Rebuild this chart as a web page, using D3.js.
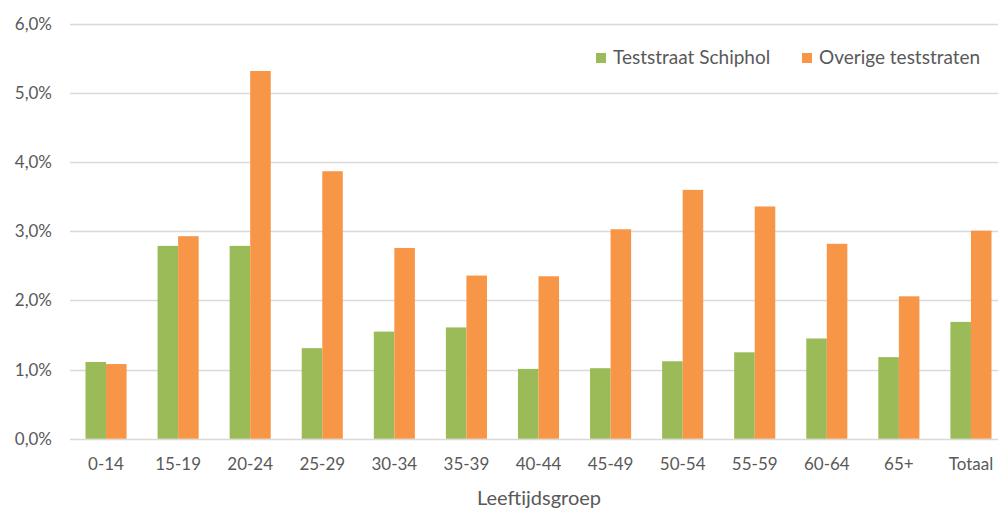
<!DOCTYPE html>
<html>
<head>
<meta charset="utf-8">
<script src="https://cdn.jsdelivr.net/npm/d3@7"></script>
<style>
  body { margin: 0; background: #fff; overflow: hidden; }
  svg { display: block; font-family: Lato, "Open Sans", sans-serif; }
  .tick text { fill: #595959; }
</style>
</head>
<body>
<div id="chart"></div>
<script>
// leeftijdsgroepen
var categories = ["0-14", "15-19", "20-24", "25-29", "30-34", "35-39", "40-44", "45-49", "50-54", "55-59", "60-64", "65+", "Totaal"];
var seriesNames = ["Teststraat Schiphol", "Overige teststraten"];
var schiphol = [1.11, 2.79, 2.79, 1.31, 1.55, 1.61, 1.01, 1.02, 1.12, 1.25, 1.45, 1.18, 1.69];
var overige = [1.08, 2.93, 5.32, 3.87, 2.76, 2.36, 2.35, 3.03, 3.60, 3.36, 2.82, 2.06, 3.01];
var yTicks = [0, 1, 2, 3, 4, 5, 6];
var colors = ["#9bbb59", "#f79646"];

var width = 998, height = 509;
var margin = { top: 24, left: 70, bottom: 70, right: 0 };
var plotRight = 1007; // plot runs past the picture's right edge

var svg = d3.select("#chart").append("svg")
    .attr("width", width)
    .attr("height", height);

var x = d3.scaleBand()
    .domain(categories)
    .range([margin.left, plotRight])
    .paddingInner(0.43)
    .paddingOuter(0.215);

var x1 = d3.scaleBand()
    .domain(seriesNames)
    .range([0, x.bandwidth()]);

var y = d3.scaleLinear()
    .domain([0, 6])
    .range([438.7, margin.top]);

// gridlines
svg.append("g")
    .attr("class", "grid")
    .selectAll("line")
    .data(yTicks)
    .enter().append("line")
    .attr("x1", margin.left)
    .attr("x2", plotRight)
    .attr("y1", function (d) { return Math.round(y(d)) + 0.5; })
    .attr("y2", function (d) { return Math.round(y(d)) + 0.5; })
    .attr("stroke", "#d9d9d9")
    .attr("stroke-width", 1.5);

// y axis labels
var yAxis = svg.append("g")
    .attr("transform", "translate(" + margin.left + ",0)")
    .call(d3.axisLeft(y).tickValues(yTicks).tickSize(0).tickPadding(18)
        .tickFormat(function (d) { return d3.format(".1f")(d).replace(".", ",") + "%"; }));
yAxis.select(".domain").remove();
yAxis.selectAll("text").attr("font-size", 17).attr("font-family", "Lato, sans-serif");

// bars
var data = categories.map(function (c, i) {
    return { key: c, values: [schiphol[i], overige[i]] };
});

var groups = svg.append("g").attr("class", "bars")
    .selectAll("g")
    .data(data)
    .enter().append("g")
    .attr("transform", function (d) { return "translate(" + x(d.key) + ",0)"; });

groups.selectAll("rect")
    .data(function (d) { return d.values.map(function (v, j) { return { name: seriesNames[j], value: v, j: j }; }); })
    .enter().append("rect")
    .attr("x", function (d) { return x1(d.name); })
    .attr("y", function (d) { return y(d.value); })
    .attr("width", x1.bandwidth())
    .attr("height", function (d) { return y(0) - y(d.value); })
    .attr("fill", function (d) { return colors[d.j]; });

// x axis labels
var xAxis = svg.append("g")
    .attr("transform", "translate(0," + y(0) + ")")
    .call(d3.axisBottom(x).tickSize(0).tickPadding(19));
xAxis.select(".domain").remove();
xAxis.selectAll("text").attr("font-size", 17).attr("font-family", "Lato, sans-serif");

// axis title
svg.append("text")
    .attr("x", 539)
    .attr("y", 505)
    .attr("text-anchor", "middle")
    .attr("fill", "#595959")
    .attr("font-size", 20)
    .text("Leeftijdsgroep");

// legend
var legendX = [596, 802];
var legend = svg.append("g").attr("class", "legend")
    .selectAll("g")
    .data(seriesNames)
    .enter().append("g")
    .attr("transform", function (d, i) { return "translate(" + legendX[i] + ",53)"; });

legend.append("rect")
    .attr("width", 10)
    .attr("height", 10)
    .attr("fill", function (d, i) { return colors[i]; });

legend.append("text")
    .attr("x", 17)
    .attr("y", 11)
    .attr("fill", "#595959")
    .attr("font-size", 19)
    .text(function (d) { return d; });
</script>
</body>
</html>
